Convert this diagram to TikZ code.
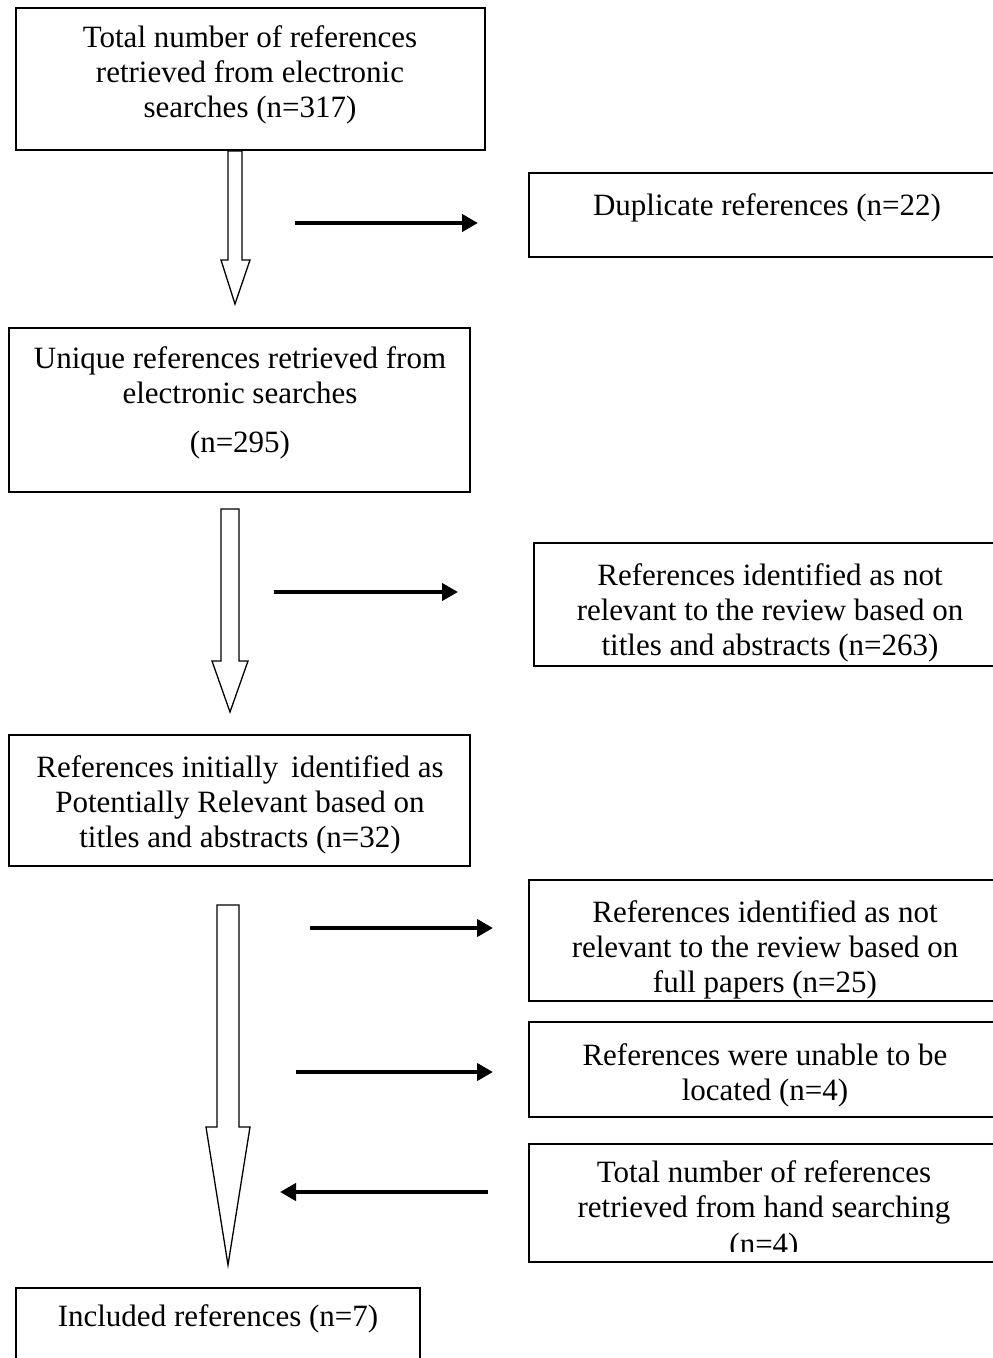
\documentclass[tikz,border=0pt]{standalone}
\usepackage{fontspec}
\setmainfont{Liberation Serif}
\usetikzlibrary{arrows.meta}
\begin{document}
\begin{tikzpicture}[x=1pt,y=-1pt,
  box/.style={draw=black,line width=1.5pt,inner sep=0pt,outer sep=0pt,anchor=north west},
  boxtext/.style={font=\fontsize{31}{35}\selectfont,align=center,inner sep=0pt,anchor=north},
  blockarrow/.style={draw=black,fill=white,line width=1.3pt,line join=miter},
  flow/.style={line width=4pt,-{Triangle[length=16pt,width=17pt]}}]
\useasboundingbox (0,0) rectangle (993,1358);
% first-line strut: text nodes are placed 25pt above their first baseline
\newcommand{\fl}{\rule{0pt}{25pt}}

% ---- hollow block arrows of the main stream ----
\draw[blockarrow] (228,151) -- (228,260) -- (221,260) -- (235,304) -- (250,260) -- (242,260) -- (242,151) -- cycle;
\draw[blockarrow] (221,509) -- (221,661) -- (212,661) -- (230,712) -- (248,661) -- (239,661) -- (239,509) -- cycle;
\draw[blockarrow] (217,905) -- (217,1127) -- (206,1127) -- (228,1265) -- (250,1127) -- (239,1127) -- (239,905) -- cycle;

% ---- left column ----
\node[box,minimum width=469pt,minimum height=142pt] (total) at (16,8) {};
\node[boxtext] (totalt) at (250,22) {\fl Total number of references\\retrieved from electronic\\searches (n=317)};

\node[box,minimum width=461pt,minimum height=164pt] (unique) at (9,328) {};
\node[boxtext] (uniquet) at (240,343) {\fl Unique references retrieved from\\electronic searches\\[14pt](n=295)};

\node[box,minimum width=461pt,minimum height=131pt] (potential) at (9,735) {};
\node[boxtext] (potentialt) at (240,752) {\fl References initially\, identified as\\Potentially Relevant based on\\titles and abstracts (n=32)};

\node[box,minimum width=404pt,minimum height=90pt] (included) at (16,1288) {};
\node[boxtext] (includedt) at (218,1301) {\fl Included references (n=7)};

% ---- right column (boxes run past the right edge) ----
\node[box,minimum width=480pt,minimum height=84pt] (duplicate) at (529,173) {};
\node[boxtext] (duplicatet) at (767,190) {\fl Duplicate references (n=22)};

\node[box,minimum width=470pt,minimum height=123pt] (notrelA) at (534,543) {};
\node[boxtext] (notrelAt) at (770,560) {\fl References identified as not\\relevant to the review based on\\titles and abstracts (n=263)};

\node[box,minimum width=480pt,minimum height=121pt] (notrelB) at (529,880) {};
\node[boxtext] (notrelBt) at (765,897) {\fl References identified as not\\relevant to the review based on\\full papers (n=25)};

\node[box,minimum width=480pt,minimum height=95pt] (unable) at (529,1022) {};
\node[boxtext] (unablet) at (765,1040) {\fl References were unable to be\\located (n=4)};

\node[box,minimum width=480pt,minimum height=118pt] (hand) at (529,1144) {};
\begin{scope}
  \clip (529,1144) rectangle (1010,1251);
  \node[boxtext] (handt) at (764,1157) {\fl Total number of references\\retrieved from hand searching\\[2pt](n=4)};
\end{scope}

% ---- side arrows ----
\coordinate (a1s) at (295,223);  \coordinate (a1e) at (478,223);
\coordinate (a2s) at (274,592);  \coordinate (a2e) at (458,592);
\coordinate (a3s) at (310,928);  \coordinate (a3e) at (493,928);
\coordinate (a4s) at (296,1072); \coordinate (a4e) at (493,1072);
\coordinate (a5s) at (488,1192); \coordinate (a5e) at (280,1192);
\draw[flow] (a1s) -- (a1e);
\draw[flow] (a2s) -- (a2e);
\draw[flow] (a3s) -- (a3e);
\draw[flow] (a4s) -- (a4e);
\draw[flow] (a5s) -- (a5e);
\end{tikzpicture}
\end{document}
